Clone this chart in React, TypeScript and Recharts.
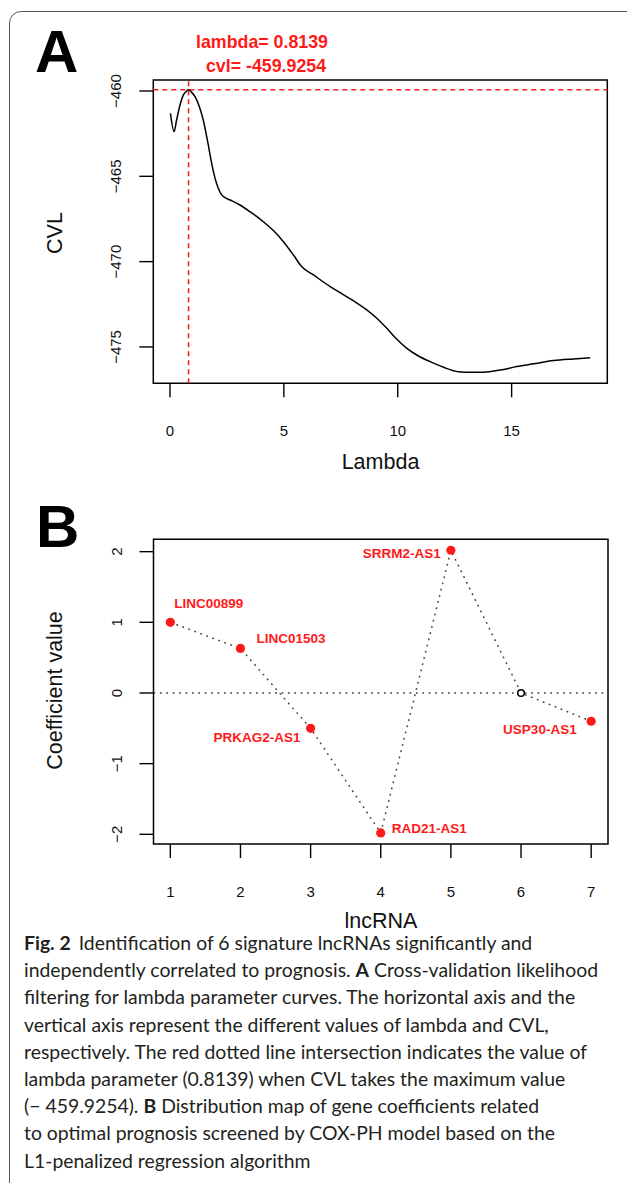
import React from 'react'
import { LineChart, Line, XAxis, YAxis, ReferenceLine, ReferenceArea, LabelList } from 'recharts'

// Panel A: cross-validated likelihood against lambda
const LAMBDA = [
  0.02, 0.18, 0.29, 0.44, 0.59, 0.7, 0.8139, 0.95, 1.1, 1.29, 1.46, 1.64, 1.83, 1.98, 2.12, 2.27,
  2.42, 2.71, 3.07, 3.51, 4.1, 4.54, 4.98, 5.42, 5.78, 6.3, 7.03, 7.47, 8.05, 8.64, 9.08, 9.52,
  9.96, 10.4, 10.91, 11.42, 12.01, 12.66, 13.18, 13.76, 14.5, 15.23, 15.96, 16.84, 17.72, 18.45,
]
const CVL = [
  -461.31, -462.38, -461.7, -460.82, -460.23, -460.04, -459.9254, -460.08, -460.33, -460.92, -461.7,
  -462.87, -464.24, -465.12, -465.7, -466.09, -466.25, -466.43, -466.68, -467.07, -467.66, -468.18,
  -468.83, -469.61, -470.29, -470.78, -471.46, -471.82, -472.29, -472.83, -473.32, -473.91, -474.55,
  -475.08, -475.53, -475.86, -476.19, -476.45, -476.48, -476.48, -476.35, -476.15, -475.99, -475.8,
  -475.7, -475.63,
]
const LAMBDA_TICKS = [0, 5, 10, 15]
const CVL_TICKS = [-475, -470, -465, -460]
const BEST_LAMBDA = 0.8139
const BEST_CVL = -459.9254

// Panel B: coefficients of the candidate lncRNAs
const GENE_INDEX = [1, 2, 3, 4, 5, 6, 7]
const GENE_NAMES = ['LINC00899', 'LINC01503', 'PRKAG2-AS1', 'RAD21-AS1', 'SRRM2-AS1', '', 'USP30-AS1']
const COEFS = [1.0, 0.63, -0.5, -1.98, 2.02, 0, -0.4]
const COEF_TICKS = [-2, -1, 0, 1, 2]

const CAPTION = [
  [['Fig. 2', true], ['Identification of 6 signature lncRNAs significantly and', false]],
  [['independently correlated to prognosis. ', false], ['A', true], [' Cross-validation likelihood', false]],
  [['filtering for lambda parameter curves. The horizontal axis and the', false]],
  [['vertical axis represent the different values of lambda and CVL,', false]],
  [['respectively. The red dotted line intersection indicates the value of', false]],
  [['lambda parameter (0.8139) when CVL takes the maximum value', false]],
  [['(\u2212 459.9254). ', false], ['B', true], [' Distribution map of gene coefficients related', false]],
  [['to optimal prognosis screened by COX-PH model based on the', false]],
  [['L1-penalized regression algorithm', false]],
] as [string, boolean][][]

const FONT = '"Liberation Sans", Arial, Helvetica, sans-serif'
const RED = '#ff1a1a'

// where each gene label sits relative to its point (R text() was hand placed)
const LABEL_PLACE = [
  { dx: 4, dy: -14.7, anchor: 'start' },
  { dx: 16, dy: -5, anchor: 'start' },
  { dx: -10, dy: 13.5, anchor: 'end' },
  { dx: 11, dy: 0.5, anchor: 'start' },
  { dx: -10, dy: 8, anchor: 'end' },
  { dx: 0, dy: 0, anchor: 'start' },
  { dx: -14.5, dy: 12.6, anchor: 'end' },
]

const fmt = (v: number) => (v < 0 ? `\u2212${Math.abs(v)}` : `${v}`)

function BottomTick({ x, y, payload }: any) {
  return (
    <text x={x} y={y + 38.5} textAnchor="middle" fontSize={15} fontFamily={FONT} fill="#111">
      {fmt(payload.value)}
    </text>
  )
}

function LeftTick({ x, y, payload }: any) {
  const bx = x - 17.8
  return (
    <text
      x={bx}
      y={y}
      transform={`rotate(-90 ${bx} ${y})`}
      textAnchor="middle"
      fontSize={15}
      fontFamily={FONT}
      fill="#111"
    >
      {fmt(payload.value)}
    </text>
  )
}

function GeneDot(props: any) {
  const { cx, cy, index, payload } = props
  if (payload.coef === 0) {
    return <circle key={`dot-${index}`} cx={cx} cy={cy} r={3.3} fill="#fff" stroke="#000" strokeWidth={1.5} />
  }
  return <circle key={`dot-${index}`} cx={cx} cy={cy} r={4.6} fill={RED} stroke="none" />
}

function GeneLabel(props: any) {
  const { index, value } = props
  if (!value) return null
  const x = props.x ?? props.viewBox?.x
  const y = props.y ?? props.viewBox?.y
  const p = LABEL_PLACE[index]
  return (
    <text
      x={x + p.dx}
      y={y + p.dy}
      textAnchor={p.anchor}
      fontSize={13.5}
      fontWeight="bold"
      fontFamily={FONT}
      fill={RED}
    >
      {value}
    </text>
  )
}

function CvlPanel() {
  const data = LAMBDA.map((lambda, i) => ({ lambda, cvl: CVL[i] }))
  const xDomain = [-0.733, 19.2]
  const yDomain = [-477.13, -459.355]
  return (
    <div style={{ position: 'absolute', left: 0, top: 0 }}>
      <LineChart width={627} height={480} data={data} margin={{ top: 80, right: 19.7, bottom: 36.7, left: 93.3 }}>
        <XAxis
          dataKey="lambda"
          type="number"
          domain={xDomain}
          ticks={LAMBDA_TICKS}
          allowDataOverflow
          axisLine={false}
          tickLine={{ stroke: '#000', strokeWidth: 1.4 }}
          tickSize={14}
          tickMargin={0}
          height={60}
          tick={<BottomTick />}
        />
        <YAxis
          type="number"
          domain={yDomain}
          ticks={CVL_TICKS}
          allowDataOverflow
          axisLine={false}
          tickLine={{ stroke: '#000', strokeWidth: 1.4 }}
          tickSize={14}
          tickMargin={0}
          width={60}
          tick={<LeftTick />}
        />
        <ReferenceArea
          x1={xDomain[0]}
          x2={xDomain[1]}
          y1={yDomain[0]}
          y2={yDomain[1]}
          fill="none"
          stroke="#000"
          strokeWidth={1.5}
        />
        <ReferenceLine x={BEST_LAMBDA} stroke={RED} strokeWidth={1.6} strokeDasharray="5 4" />
        <ReferenceLine y={BEST_CVL} stroke={RED} strokeWidth={1.6} strokeDasharray="5 4" />
        <Line
          type="monotone"
          dataKey="cvl"
          stroke="#000"
          strokeWidth={1.5}
          dot={false}
          isAnimationActive={false}
        />
      </LineChart>
    </div>
  )
}

function CoefPanel() {
  const data = GENE_INDEX.map((idx, i) => ({ idx, coef: COEFS[i], name: GENE_NAMES[i] }))
  const xDomain = [0.76, 7.24]
  const yDomain = [-2.137, 2.175]
  return (
    <div style={{ position: 'absolute', left: 0, top: 460 }}>
      <LineChart width={627} height={480} data={data} margin={{ top: 79.3, right: 19, bottom: 36, left: 93.5 }}>
        <XAxis
          dataKey="idx"
          type="number"
          domain={xDomain}
          ticks={GENE_INDEX}
          allowDataOverflow
          axisLine={false}
          tickLine={{ stroke: '#000', strokeWidth: 1.4 }}
          tickSize={14}
          tickMargin={0}
          height={60}
          tick={<BottomTick />}
        />
        <YAxis
          type="number"
          domain={yDomain}
          ticks={COEF_TICKS}
          allowDataOverflow
          axisLine={false}
          tickLine={{ stroke: '#000', strokeWidth: 1.4 }}
          tickSize={14}
          tickMargin={0}
          width={60}
          tick={<LeftTick />}
        />
        <ReferenceArea
          x1={xDomain[0]}
          x2={xDomain[1]}
          y1={yDomain[0]}
          y2={yDomain[1]}
          fill="none"
          stroke="#000"
          strokeWidth={1.5}
        />
        <ReferenceLine y={0} stroke="#444" strokeWidth={1.5} strokeDasharray="1.8 4.6" />
        <Line
          type="linear"
          dataKey="coef"
          stroke="#444"
          strokeWidth={1.5}
          strokeDasharray="1.8 4.6"
          dot={GeneDot}
          isAnimationActive={false}
        >
          <LabelList dataKey="name" content={GeneLabel} />
        </Line>
      </LineChart>
    </div>
  )
}

function Overlay() {
  return (
    <svg
      width={627}
      height={1183}
      style={{ position: 'absolute', left: 0, top: 0, pointerEvents: 'none' }}
      fontFamily={FONT}
    >
      <text x={35} y={71.5} fontSize={60} fontWeight="bold" fill="#000">A</text>
      <text x={36} y={547} fontSize={60} fontWeight="bold" fill="#000">B</text>
      <text x={262} y={48} textAnchor="middle" fontSize={17.8} fontWeight="bold" fill={RED}>
        lambda= {BEST_LAMBDA}
      </text>
      <text x={266} y={71.5} textAnchor="middle" fontSize={17.8} fontWeight="bold" fill={RED}>
        cvl= {BEST_CVL}
      </text>
      <text x={380.5} y={469} textAnchor="middle" fontSize={21.5} fill="#111">Lambda</text>
      <text x={62} y={233} transform="rotate(-90 62 233)" textAnchor="middle" fontSize={21.5} fill="#111">
        CVL
      </text>
      <text x={381} y={928} textAnchor="middle" fontSize={21.5} fill="#111">lncRNA</text>
      <text x={62} y={690.5} transform="rotate(-90 62 690.5)" textAnchor="middle" fontSize={21.5} fill="#111">
        Coefficient value
      </text>
    </svg>
  )
}

function Caption() {
  return (
    <div
      style={{
        position: 'absolute',
        left: 24,
        top: 929,
        fontFamily: 'Lato, "Open Sans", sans-serif',
        fontSize: 19.4,
        lineHeight: '27.2px',
        color: '#231f20',
        whiteSpace: 'nowrap',
      }}
    >
      {CAPTION.map((line, i) => (
        <div key={i}>
          {line.map(([txt, bold], j) =>
            bold ? (
              <b key={j} style={{ fontWeight: 700, marginRight: j === 0 && i === 0 ? 8 : 0 }}>
                {txt}
              </b>
            ) : (
              <span key={j}>{txt}</span>
            ),
          )}
        </div>
      ))}
    </div>
  )
}

export default function App() {
  return (
    <div
      style={{
        position: 'absolute',
        left: 0,
        top: 0,
        width: 627,
        height: 1183,
        overflow: 'hidden',
        background: '#fff',
      }}
    >
      <div
        style={{
          position: 'absolute',
          left: 9,
          top: 11,
          width: 700,
          height: 1300,
          border: '1.3px solid #5a5a5a',
          borderRadius: 12,
        }}
      />
      <CvlPanel />
      <CoefPanel />
      <Overlay />
      <Caption />
    </div>
  )
}
